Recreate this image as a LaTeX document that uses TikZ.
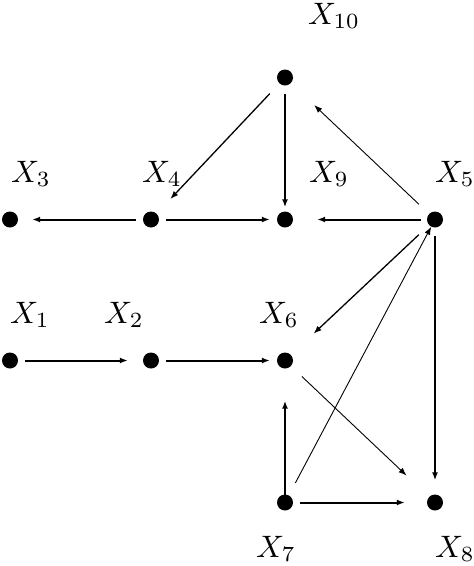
\documentclass[tikz,border=0pt]{standalone}
\usetikzlibrary{arrows.meta}
\newcommand{\biglbl}[1]{\scalebox{3.1}{$#1$}}
\begin{document}
\begin{tikzpicture}[x=1pt,y=-1pt,
  dot/.style={circle,fill=black,inner sep=0pt,minimum size=16pt},
  lbl/.style={anchor=base,inner sep=0pt},
  edge/.style={-{Latex[length=8pt,width=6pt]},line width=2pt},
  thinedge/.style={-{Latex[length=8pt,width=6pt]},line width=0.9pt},
  midedge/.style={-{Latex[length=8pt,width=6pt]},line width=1.3pt}]
\useasboundingbox (0,0) rectangle (474,566);
% nodes
\node[dot] (x10) at (285,77.5) {};
\node[dot] (x3) at (10,219.5) {};
\node[dot] (x4) at (151,219.5) {};
\node[dot] (x9) at (285,219.5) {};
\node[dot] (x5) at (435,219.5) {};
\node[dot] (x1) at (10,360.5) {};
\node[dot] (x2) at (151,360.5) {};
\node[dot] (x6) at (285,360.5) {};
\node[dot] (x7) at (285,502.5) {};
\node[dot] (x8) at (435,502.5) {};
% labels
\node[lbl] (l10) at (334,24) {\biglbl{X_{10}}};
\node[lbl] (l3) at (31,182) {\biglbl{X_3}};
\node[lbl] (l4) at (162,182) {\biglbl{X_4}};
\node[lbl] (l9) at (329,182) {\biglbl{X_9}};
\node[lbl] (l5) at (455,182) {\biglbl{X_5}};
\node[lbl] (l1) at (30,323) {\biglbl{X_1}};
\node[lbl] (l2) at (124,323) {\biglbl{X_2}};
\node[lbl] (l6) at (279,323) {\biglbl{X_6}};
\node[lbl] (l7) at (276,557) {\biglbl{X_7}};
\node[lbl] (l8) at (455,557) {\biglbl{X_8}};
% edges
\draw[midedge,shorten <=14pt,shorten >=20pt] (x10) -- (x4);
\draw[edge,shorten <=8pt,shorten >=4pt] (x10) -- (x9);
\draw[edge,shorten <=7pt,shorten >=14pt] (x4) -- (x3);
\draw[edge,shorten <=7pt,shorten >=7pt] (x4) -- (x9);
\draw[edge,shorten <=6pt,shorten >=24pt] (x5) -- (x9);
\draw[thinedge,shorten <=14pt,shorten >=32pt] (x5) -- (x10);
\draw[midedge,shorten <=14pt,shorten >=31pt] (x5) -- (x6);
\draw[thinedge,shorten <=14pt,shorten >=0pt] (x7) -- (x5);
\draw[edge,shorten <=8pt,shorten >=14pt] (x5) -- (x8);
\draw[edge,shorten <=7pt,shorten >=15pt] (x1) -- (x2);
\draw[edge,shorten <=7pt,shorten >=7pt] (x2) -- (x6);
\draw[thinedge,shorten <=15pt,shorten >=31pt] (x6) -- (x8);
\draw[edge,shorten <=-8pt,shorten >=32pt] (x7) -- (x6);
\draw[edge,shorten <=7pt,shorten >=22pt] (x7) -- (x8);
\end{tikzpicture}
\end{document}
